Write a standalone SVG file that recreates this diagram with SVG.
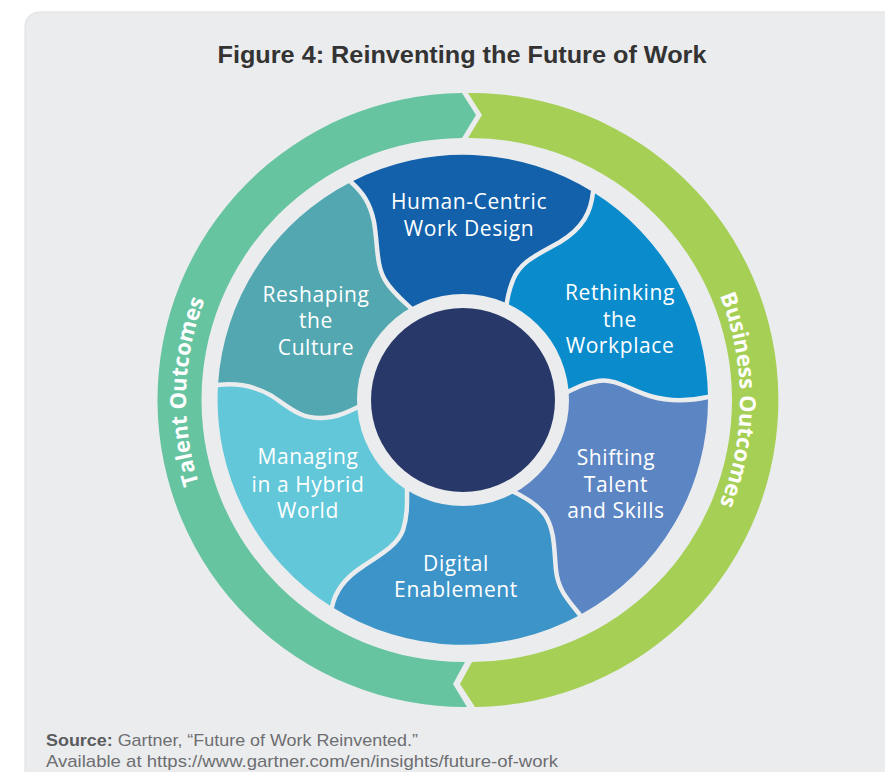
<svg xmlns="http://www.w3.org/2000/svg" width="885" height="772" viewBox="0 0 885 772">
<style>
.seg-label{font-family:"Open Sans","Liberation Sans",sans-serif;font-size:21px;letter-spacing:0.6px;fill:#ffffff;text-anchor:middle}
.ring-label{font-family:"Open Sans","Liberation Sans",sans-serif;font-size:22px;font-weight:bold;fill:#ffffff;text-anchor:middle}
.gap{fill:none;stroke:#ebecee;stroke-width:4.5;stroke-linecap:round}
.src{font-family:"Liberation Sans","Open Sans",sans-serif;font-size:17px;fill:#6d6e71}
</style>
<defs>
<path id="talentPath" d="M463,677 A277,277 0 0 1 463,123"/>
<path id="businessPath" d="M463,123 A277,277 0 0 1 463,677"/>
</defs>
<rect x="0" y="0" width="885" height="772" fill="#ffffff"/>
<rect x="25" y="12" width="900" height="790" rx="14" fill="#ebecee" stroke="#dedfe1" stroke-width="1"/>
<text x="462" y="63" font-family="Liberation Sans, Arial, sans-serif" font-size="23" font-weight="bold" fill="#333333" text-anchor="middle" textLength="489" lengthAdjust="spacingAndGlyphs">Figure 4: Reinventing the Future of Work</text>

<g id="talent-outcomes">
<path d="M462,93 L476,115 L462,138 A262,262 0 1 0 465,662 L453,684 L467,707 A307,307 0 1 1 462,93 Z" fill="#66c4a1"/>
<text class="ring-label"><textPath href="#talentPath" startOffset="51%">Talent Outcomes</textPath></text>
</g>
<g id="business-outcomes">
<path d="M468,93 A307,307 0 0 1 475,707 L460,684 L472,662 A262,262 0 0 0 468,138 L482,115 Z" fill="#a6cf55"/>
<text class="ring-label"><textPath href="#businessPath" startOffset="50%">Business Outcomes</textPath></text>
</g>

<g id="human-centric">
<path d="M351,182 C362,192 370,202 374,222 C378,245 376,265 385,280 C392,292 402,300 413,310 L463,400 L506,310 C507,298 509,290 513,280 C520,262 535,256 560,242 C583,228 591,212 593,192 A245,245 0 0 0 351,182 Z" fill="#1261aa"/>
<text class="seg-label" x="469" y="209">Human-Centric</text>
<text class="seg-label" x="469" y="236">Work Design</text>
</g>
<g id="rethinking">
<path d="M593,192 C591,212 583,228 560,242 C535,256 520,262 513,280 C509,290 507,298 506,310 L463,400 L560,396 C575,388 585,383 598,381 C615,378 630,390 650,396 C670,402 690,401 708,397 A245,245 0 0 0 593,192 Z" fill="#0a8bcc"/>
<text class="seg-label" x="620" y="300">Rethinking</text>
<text class="seg-label" x="620" y="327">the</text>
<text class="seg-label" x="620" y="353">Workplace</text>
</g>
<g id="shifting">
<path d="M708,397 C690,401 670,402 650,396 C630,390 615,378 598,381 C585,383 575,388 560,396 L463,400 L510,490 C525,497 538,505 545,515 C555,530 554,550 556,570 C558,590 568,600 580,615 A245,245 0 0 0 708,397 Z" fill="#5c85c3"/>
<text class="seg-label" x="616" y="465">Shifting</text>
<text class="seg-label" x="616" y="492">Talent</text>
<text class="seg-label" x="616" y="518">and Skills</text>
</g>
<g id="digital">
<path d="M580,615 C568,600 558,590 556,570 C554,550 555,530 545,515 C538,505 525,497 510,490 L463,400 L407,485 C407,500 408,515 403,530 C398,545 380,555 362,567 C345,578 335,592 332,607 A245,245 0 0 0 580,615 Z" fill="#3d94c8"/>
<text class="seg-label" x="456" y="571">Digital</text>
<text class="seg-label" x="456" y="597">Enablement</text>
</g>
<g id="managing">
<path d="M332,607 C335,592 345,578 362,567 C380,555 398,545 403,530 C408,515 407,500 407,485 L463,400 L368,402 C352,410 338,418 320,418 C300,418 290,408 272,396 C255,386 235,383 218,385 A245,245 0 0 0 332,607 Z" fill="#63c7da"/>
<text class="seg-label" x="308" y="464">Managing</text>
<text class="seg-label" x="308" y="492">in a Hybrid</text>
<text class="seg-label" x="308" y="518">World</text>
</g>
<g id="reshaping">
<path d="M218,385 C235,383 255,386 272,396 C290,408 300,418 320,418 C338,418 352,410 368,402 L463,400 L413,310 C402,300 392,292 385,280 C376,265 378,245 374,222 C370,202 362,192 351,182 A245,245 0 0 0 218,385 Z" fill="#52a7b1"/>
<text class="seg-label" x="316" y="302">Reshaping</text>
<text class="seg-label" x="316" y="328">the</text>
<text class="seg-label" x="316" y="355">Culture</text>
</g>

<g id="connectors">
<path class="gap" d="M351,182 C362,192 370,202 374,222 C378,245 376,265 385,280 C392,292 402,300 413,310"/>
<path class="gap" d="M593,192 C591,212 583,228 560,242 C535,256 520,262 513,280 C509,290 507,298 506,310"/>
<path class="gap" d="M708,397 C690,401 670,402 650,396 C630,390 615,378 598,381 C585,383 575,388 560,396"/>
<path class="gap" d="M580,615 C568,600 558,590 556,570 C554,550 555,530 545,515 C538,505 525,497 510,490"/>
<path class="gap" d="M332,607 C335,592 345,578 362,567 C380,555 398,545 403,530 C408,515 407,500 407,485"/>
<path class="gap" d="M218,385 C235,383 255,386 272,396 C290,408 300,418 320,418 C338,418 352,410 368,402"/>
</g>

<g id="hub">
<circle cx="463" cy="400" r="106" fill="#ebecee"/>
<circle cx="463" cy="400" r="92" fill="#283869"/>
</g>

<g id="source">
<text class="src" x="46" y="746" textLength="372" lengthAdjust="spacingAndGlyphs"><tspan font-weight="bold" fill="#5a5b5e">Source:</tspan> Gartner, “Future of Work Reinvented.”</text>
<text class="src" x="46" y="767" textLength="512" lengthAdjust="spacingAndGlyphs">Available at https://www.gartner.com/en/insights/future-of-work</text>
</g>
</svg>
